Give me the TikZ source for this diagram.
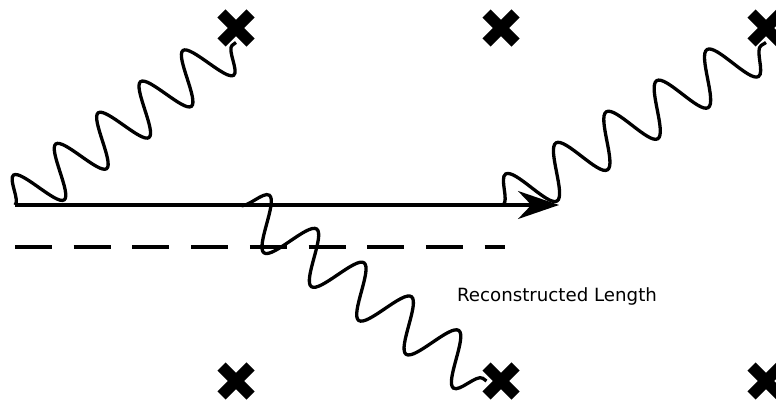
\documentclass[tikz,border=0pt]{standalone}
\usepackage{fontspec}
\setmainfont{DejaVu Sans}
\usetikzlibrary{arrows.meta,positioning,shapes.misc,decorations.pathmorphing}

\begin{document}
\begin{tikzpicture}[
    x=1pt, y=-1pt,
    node distance=236pt,
    site/.style={cross out, draw, line width=11.5pt, minimum size=29pt, inner sep=0pt, outer sep=0pt},
    photon/.style={decorate, decoration={snake, segment length=#1, amplitude=25pt}, line width=3.3pt},
    track/.style={line width=3.2pt},
    >={Stealth[length=41pt,width=28pt]}
  ]
    \useasboundingbox (0,0) rectangle (776,403);

    \node[site] (t1) at (236,28) {};
    \node[site, right=of t1] (t2) {};
    \node[site, right=of t2] (t3) {};
    \node[site, below=324pt of t1] (b1) {};
    \node[site, right=of b1] (b2) {};
    \node[site, right=of b2] (b3) {};

    \coordinate (h1) at (15,205);
    \coordinate (h2) at (240,205);
    \coordinate (h3) at (503,205);
    \coordinate (tip) at (559,205);
    \coordinate (d0) at (15,247);
    \coordinate (d1) at (505,247);

    \draw[track, ->] (h1) -- (tip);
    \draw[track, dash pattern=on 37pt off 21.7pt] (d0) -- (d1);

    \draw[photon=52.6pt] (h1) -- (t1.south);
    \draw[photon=58.2pt] (h2) -- (b2.west);
    \draw[photon=59.2pt] (h3) -- (t3.south);

    \node[font=\fontsize{18.2}{22}\selectfont] (len) at (557,296) {Reconstructed Length};
  \end{tikzpicture}
\end{document}
